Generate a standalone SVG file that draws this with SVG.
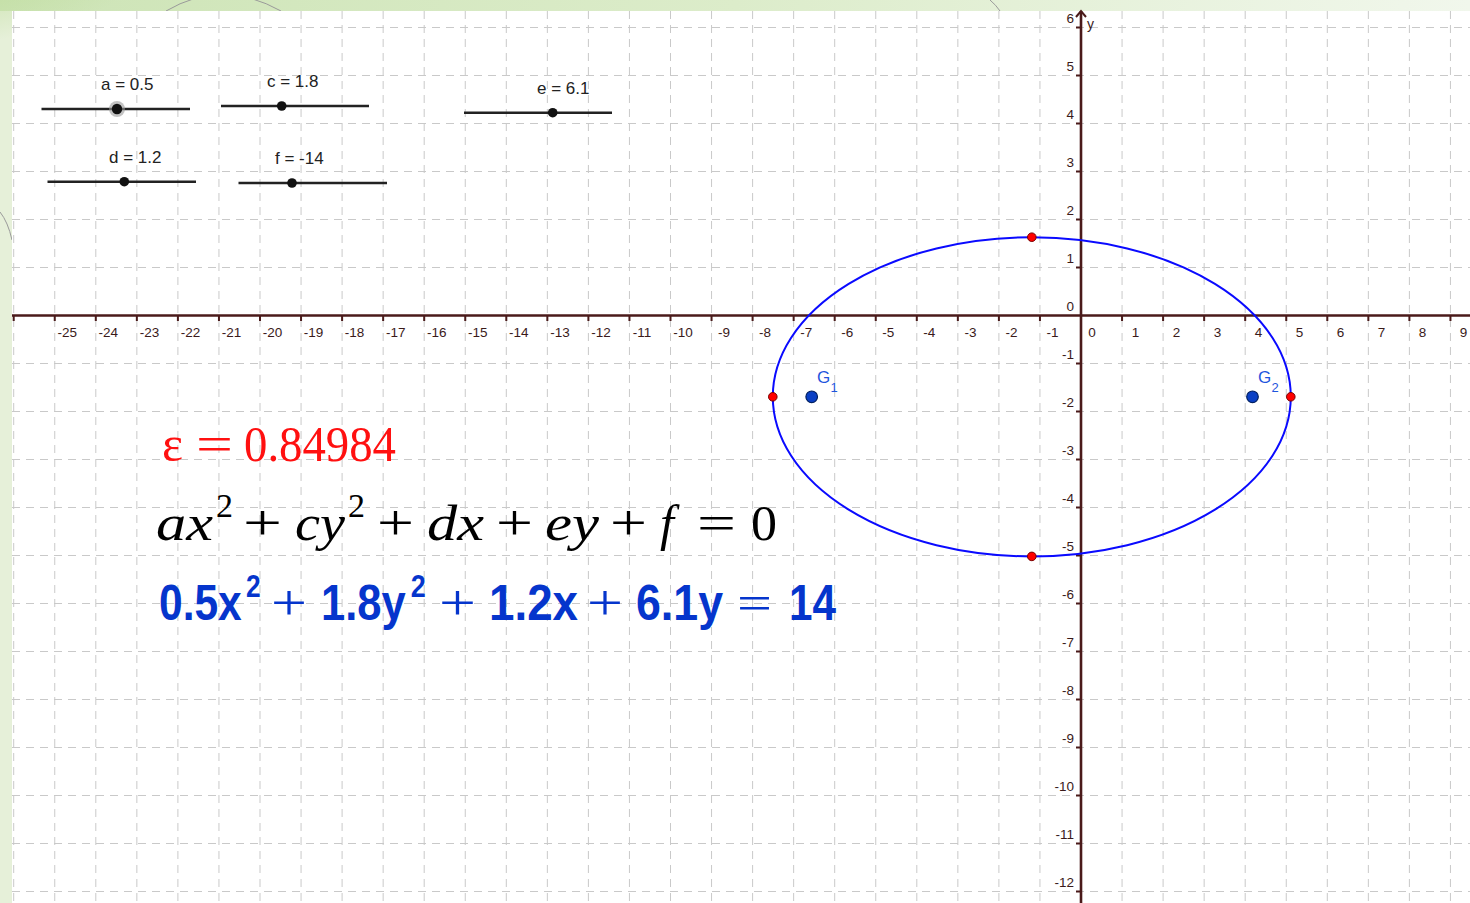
<svg xmlns="http://www.w3.org/2000/svg" width="1470" height="903" viewBox="0 0 1470 903">
<defs>
<linearGradient id="topband" x1="0" y1="0" x2="1" y2="0">
<stop offset="0" stop-color="#cde4b6"/>
<stop offset="0.5" stop-color="#dcecca"/>
<stop offset="1" stop-color="#f1f7ec"/>
</linearGradient>
<radialGradient id="blob" cx="0" cy="0" r="1">
<stop offset="0" stop-color="#bcdb98"/>
<stop offset="1" stop-color="#bcdb98" stop-opacity="0"/>
</radialGradient>
<style>
.grid{stroke:#c9c9c9;stroke-width:1;stroke-dasharray:8 6;fill:none}
.axis{stroke:#4a1a1a;stroke-width:2.6;fill:none}
.tick{stroke:#4a1a1a;stroke-width:2;fill:none}
.xl{font-family:"Liberation Sans",Arial,sans-serif;font-size:13.5px;fill:#3a1a1a;text-anchor:middle}
.yl{font-family:"Liberation Sans",Arial,sans-serif;font-size:13.5px;fill:#3a1a1a;text-anchor:end}
.sl{stroke:#222;stroke-width:2.6;fill:none}
.knob{fill:#111}
.slab{font-family:"Liberation Sans",Arial,sans-serif;font-size:17px;fill:#222}
.rp{fill:#f00;stroke:#700;stroke-width:1}
.fp{fill:#0a3fc4;stroke:#022060;stroke-width:1.2}
.gl{font-family:"Liberation Sans",Arial,sans-serif;fill:#1f55dd}
.ser{font-family:"Liberation Serif","Times New Roman",serif}
.it{font-style:italic}
.bsans{font-family:"Liberation Sans",Arial,sans-serif;font-weight:bold}
.deco{stroke:#9a9a9a;stroke-width:1;fill:none}
</style>
</defs>

<!-- background frame -->
<rect x="0" y="0" width="1470" height="903" fill="#e6f0d9"/>
<rect x="0" y="0" width="1470" height="11" fill="url(#topband)"/>
<ellipse cx="30" cy="5" rx="110" ry="40" fill="url(#blob)"/>
<path class="deco" d="M166,11 Q222,-22 281,11"/>
<path class="deco" d="M990,0 Q996,5 1000,11"/>
<path class="deco" d="M0,212 Q8,222 12,240"/>
<rect x="12" y="11" width="1458" height="892" fill="#ffffff"/>

<!-- grid -->
<g id="grid">
<line class="grid" x1="13.7" y1="11" x2="13.7" y2="903"/>
<line class="grid" x1="54.75" y1="11" x2="54.75" y2="903"/>
<line class="grid" x1="95.8" y1="11" x2="95.8" y2="903"/>
<line class="grid" x1="136.85" y1="11" x2="136.85" y2="903"/>
<line class="grid" x1="177.9" y1="11" x2="177.9" y2="903"/>
<line class="grid" x1="218.95" y1="11" x2="218.95" y2="903"/>
<line class="grid" x1="260" y1="11" x2="260" y2="903"/>
<line class="grid" x1="301.05" y1="11" x2="301.05" y2="903"/>
<line class="grid" x1="342.1" y1="11" x2="342.1" y2="903"/>
<line class="grid" x1="383.15" y1="11" x2="383.15" y2="903"/>
<line class="grid" x1="424.2" y1="11" x2="424.2" y2="903"/>
<line class="grid" x1="465.25" y1="11" x2="465.25" y2="903"/>
<line class="grid" x1="506.3" y1="11" x2="506.3" y2="903"/>
<line class="grid" x1="547.35" y1="11" x2="547.35" y2="903"/>
<line class="grid" x1="588.4" y1="11" x2="588.4" y2="903"/>
<line class="grid" x1="629.45" y1="11" x2="629.45" y2="903"/>
<line class="grid" x1="670.5" y1="11" x2="670.5" y2="903"/>
<line class="grid" x1="711.55" y1="11" x2="711.55" y2="903"/>
<line class="grid" x1="752.6" y1="11" x2="752.6" y2="903"/>
<line class="grid" x1="793.65" y1="11" x2="793.65" y2="903"/>
<line class="grid" x1="834.7" y1="11" x2="834.7" y2="903"/>
<line class="grid" x1="875.75" y1="11" x2="875.75" y2="903"/>
<line class="grid" x1="916.8" y1="11" x2="916.8" y2="903"/>
<line class="grid" x1="957.85" y1="11" x2="957.85" y2="903"/>
<line class="grid" x1="998.9" y1="11" x2="998.9" y2="903"/>
<line class="grid" x1="1039.95" y1="11" x2="1039.95" y2="903"/>
<line class="grid" x1="1122.05" y1="11" x2="1122.05" y2="903"/>
<line class="grid" x1="1163.1" y1="11" x2="1163.1" y2="903"/>
<line class="grid" x1="1204.15" y1="11" x2="1204.15" y2="903"/>
<line class="grid" x1="1245.2" y1="11" x2="1245.2" y2="903"/>
<line class="grid" x1="1286.25" y1="11" x2="1286.25" y2="903"/>
<line class="grid" x1="1327.3" y1="11" x2="1327.3" y2="903"/>
<line class="grid" x1="1368.35" y1="11" x2="1368.35" y2="903"/>
<line class="grid" x1="1409.4" y1="11" x2="1409.4" y2="903"/>
<line class="grid" x1="1450.45" y1="11" x2="1450.45" y2="903"/>
<line class="grid" x1="12" y1="27.5" x2="1470" y2="27.5"/>
<line class="grid" x1="12" y1="75.5" x2="1470" y2="75.5"/>
<line class="grid" x1="12" y1="123.5" x2="1470" y2="123.5"/>
<line class="grid" x1="12" y1="171.5" x2="1470" y2="171.5"/>
<line class="grid" x1="12" y1="219.5" x2="1470" y2="219.5"/>
<line class="grid" x1="12" y1="267.5" x2="1470" y2="267.5"/>
<line class="grid" x1="12" y1="363.5" x2="1470" y2="363.5"/>
<line class="grid" x1="12" y1="411.5" x2="1470" y2="411.5"/>
<line class="grid" x1="12" y1="459.5" x2="1470" y2="459.5"/>
<line class="grid" x1="12" y1="507.5" x2="1470" y2="507.5"/>
<line class="grid" x1="12" y1="555.5" x2="1470" y2="555.5"/>
<line class="grid" x1="12" y1="603.5" x2="1470" y2="603.5"/>
<line class="grid" x1="12" y1="651.5" x2="1470" y2="651.5"/>
<line class="grid" x1="12" y1="699.5" x2="1470" y2="699.5"/>
<line class="grid" x1="12" y1="747.5" x2="1470" y2="747.5"/>
<line class="grid" x1="12" y1="795.5" x2="1470" y2="795.5"/>
<line class="grid" x1="12" y1="843.5" x2="1470" y2="843.5"/>
<line class="grid" x1="12" y1="891.5" x2="1470" y2="891.5"/>
</g>

<!-- axes -->
<g id="axes">
<line class="axis" x1="12" y1="315.5" x2="1470" y2="315.5"/>
<line class="axis" x1="1081" y1="11" x2="1081" y2="903"/>
<path class="tick" d="M1076,17 L1081,11 L1086,17"/>
<path class="tick" d="M13.7,315.5v5.5M54.75,315.5v5.5M95.8,315.5v5.5M136.85,315.5v5.5M177.9,315.5v5.5M218.95,315.5v5.5M260,315.5v5.5M301.05,315.5v5.5M342.1,315.5v5.5M383.15,315.5v5.5M424.2,315.5v5.5M465.25,315.5v5.5M506.3,315.5v5.5M547.35,315.5v5.5M588.4,315.5v5.5M629.45,315.5v5.5M670.5,315.5v5.5M711.55,315.5v5.5M752.6,315.5v5.5M793.65,315.5v5.5M834.7,315.5v5.5M875.75,315.5v5.5M916.8,315.5v5.5M957.85,315.5v5.5M998.9,315.5v5.5M1039.95,315.5v5.5M1122.05,315.5v5.5M1163.1,315.5v5.5M1204.15,315.5v5.5M1245.2,315.5v5.5M1286.25,315.5v5.5M1327.3,315.5v5.5M1368.35,315.5v5.5M1409.4,315.5v5.5M1450.45,315.5v5.5"/>
<path class="tick" d="M1076,27.5h5M1076,75.5h5M1076,123.5h5M1076,171.5h5M1076,219.5h5M1076,267.5h5M1076,363.5h5M1076,411.5h5M1076,459.5h5M1076,507.5h5M1076,555.5h5M1076,603.5h5M1076,651.5h5M1076,699.5h5M1076,747.5h5M1076,795.5h5M1076,843.5h5M1076,891.5h5"/>
<text x="1087" y="29" font-family="Liberation Sans,Arial,sans-serif" font-size="14" fill="#3a1a1a">y</text>
<text class="xl" x="67.3" y="337">-25</text>
<text class="xl" x="108.3" y="337">-24</text>
<text class="xl" x="149.4" y="337">-23</text>
<text class="xl" x="190.4" y="337">-22</text>
<text class="xl" x="231.5" y="337">-21</text>
<text class="xl" x="272.5" y="337">-20</text>
<text class="xl" x="313.6" y="337">-19</text>
<text class="xl" x="354.6" y="337">-18</text>
<text class="xl" x="395.7" y="337">-17</text>
<text class="xl" x="436.7" y="337">-16</text>
<text class="xl" x="477.8" y="337">-15</text>
<text class="xl" x="518.8" y="337">-14</text>
<text class="xl" x="559.9" y="337">-13</text>
<text class="xl" x="600.9" y="337">-12</text>
<text class="xl" x="642" y="337">-11</text>
<text class="xl" x="683" y="337">-10</text>
<text class="xl" x="724.1" y="337">-9</text>
<text class="xl" x="765.1" y="337">-8</text>
<text class="xl" x="806.2" y="337">-7</text>
<text class="xl" x="847.2" y="337">-6</text>
<text class="xl" x="888.3" y="337">-5</text>
<text class="xl" x="929.3" y="337">-4</text>
<text class="xl" x="970.4" y="337">-3</text>
<text class="xl" x="1011.4" y="337">-2</text>
<text class="xl" x="1052.5" y="337">-1</text>
<text class="xl" x="1092" y="337">0</text>
<text class="xl" x="1135.5" y="337">1</text>
<text class="xl" x="1176.5" y="337">2</text>
<text class="xl" x="1217.5" y="337">3</text>
<text class="xl" x="1258.5" y="337">4</text>
<text class="xl" x="1299.5" y="337">5</text>
<text class="xl" x="1340.5" y="337">6</text>
<text class="xl" x="1381.5" y="337">7</text>
<text class="xl" x="1422.5" y="337">8</text>
<text class="xl" x="1463.5" y="337">9</text>
<text class="yl" x="1074" y="22.5">6</text>
<text class="yl" x="1074" y="70.5">5</text>
<text class="yl" x="1074" y="118.5">4</text>
<text class="yl" x="1074" y="166.5">3</text>
<text class="yl" x="1074" y="214.5">2</text>
<text class="yl" x="1074" y="262.5">1</text>
<text class="yl" x="1074" y="310.5">0</text>
<text class="yl" x="1074" y="358.5">-1</text>
<text class="yl" x="1074" y="406.5">-2</text>
<text class="yl" x="1074" y="454.5">-3</text>
<text class="yl" x="1074" y="502.5">-4</text>
<text class="yl" x="1074" y="550.5">-5</text>
<text class="yl" x="1074" y="598.5">-6</text>
<text class="yl" x="1074" y="646.5">-7</text>
<text class="yl" x="1074" y="694.5">-8</text>
<text class="yl" x="1074" y="742.5">-9</text>
<text class="yl" x="1074" y="790.5">-10</text>
<text class="yl" x="1074" y="838.5">-11</text>
<text class="yl" x="1074" y="886.5">-12</text>
</g>

<!-- ellipse -->
<g id="ellipse">
<ellipse cx="1031.8" cy="396.8" rx="259" ry="159.6" fill="none" stroke="#0a0aff" stroke-width="2"/>
</g>
<g id="vertices">
<circle class="rp" cx="772.8" cy="396.8" r="4.3"/>
<circle class="rp" cx="1290.8" cy="396.8" r="4.3"/>
<circle class="rp" cx="1031.8" cy="237.2" r="4.3"/>
<circle class="rp" cx="1031.8" cy="556.4" r="4.3"/>
</g>
<g id="G1">
<circle class="fp" cx="811.7" cy="396.8" r="5.8"/>
<text class="gl" x="817" y="383" font-size="17">G</text>
<text class="gl" x="830.5" y="391.5" font-size="13">1</text>
</g>
<g id="G2">
<circle class="fp" cx="1252.5" cy="396.8" r="5.8"/>
<text class="gl" x="1258" y="383" font-size="17">G</text>
<text class="gl" x="1271.5" y="391.5" font-size="13">2</text>
</g>

<!-- sliders -->
<g id="slider-a">
<line class="sl" x1="41.5" y1="109" x2="190" y2="109"/>
<circle cx="117" cy="109" r="8" fill="#999" opacity="0.6"/>
<circle class="knob" cx="117" cy="109" r="5.2"/>
<text class="slab" x="101" y="90">a = 0.5</text>
</g>
<g id="slider-c">
<line class="sl" x1="221" y1="106" x2="369" y2="106"/>
<circle class="knob" cx="281.7" cy="106" r="4.8"/>
<text class="slab" x="267" y="87">c = 1.8</text>
</g>
<g id="slider-e">
<line class="sl" x1="464" y1="112.7" x2="612" y2="112.7"/>
<circle class="knob" cx="552.7" cy="112.7" r="4.8"/>
<text class="slab" x="537" y="94">e = 6.1</text>
</g>
<g id="slider-d">
<line class="sl" x1="47.5" y1="181.7" x2="196" y2="181.7"/>
<circle class="knob" cx="124.3" cy="181.7" r="4.8"/>
<text class="slab" x="109" y="163">d = 1.2</text>
</g>
<g id="slider-f">
<line class="sl" x1="238.5" y1="183" x2="387" y2="183"/>
<circle class="knob" cx="292" cy="183" r="4.8"/>
<text class="slab" x="275" y="164">f = -14</text>
</g>

<!-- formulas -->
<g id="eccentricity" fill="#ff1010" font-size="50">
<text class="ser" x="162" y="461">ε</text>
<text class="ser" x="196" y="461" textLength="37" lengthAdjust="spacingAndGlyphs">=</text>
<text class="ser" x="244" y="461" textLength="152" lengthAdjust="spacingAndGlyphs">0.84984</text>
</g>
<g id="general-equation" fill="#000" font-size="50">
<text class="ser it" x="156" y="540" textLength="57" lengthAdjust="spacingAndGlyphs">ax</text>
<text class="ser" x="216" y="517" font-size="33" textLength="17" lengthAdjust="spacingAndGlyphs">2</text>
<text class="ser" x="243" y="540" textLength="39" lengthAdjust="spacingAndGlyphs">+</text>
<text class="ser it" x="295" y="540" textLength="50" lengthAdjust="spacingAndGlyphs">cy</text>
<text class="ser" x="348" y="517" font-size="33" textLength="17" lengthAdjust="spacingAndGlyphs">2</text>
<text class="ser" x="377" y="540" textLength="37" lengthAdjust="spacingAndGlyphs">+</text>
<text class="ser it" x="427" y="540" textLength="57" lengthAdjust="spacingAndGlyphs">dx</text>
<text class="ser" x="496" y="540" textLength="37" lengthAdjust="spacingAndGlyphs">+</text>
<text class="ser it" x="545" y="540" textLength="54" lengthAdjust="spacingAndGlyphs">ey</text>
<text class="ser" x="610" y="540" textLength="37" lengthAdjust="spacingAndGlyphs">+</text>
<text class="ser it" x="660" y="540">f</text>
<text class="ser" x="697" y="540" textLength="39" lengthAdjust="spacingAndGlyphs">=</text>
<text class="ser" x="751" y="540" textLength="26" lengthAdjust="spacingAndGlyphs">0</text>
</g>
<g id="numeric-equation" fill="#0535cc" font-size="50">
<text class="bsans" transform="translate(159,620) scale(0.85,1)">0.5x<tspan dx="5" dy="-23" font-size="31">2</tspan></text>
<text class="ser" x="271" y="620" textLength="36" lengthAdjust="spacingAndGlyphs">+</text>
<text class="bsans" transform="translate(321,620) scale(0.87,1)">1.8y<tspan dx="6" dy="-23" font-size="31">2</tspan></text>
<text class="ser" x="439" y="620" textLength="37" lengthAdjust="spacingAndGlyphs">+</text>
<text class="bsans" x="489" y="620" textLength="89" lengthAdjust="spacingAndGlyphs">1.2x</text>
<text class="ser" x="587" y="620" textLength="36" lengthAdjust="spacingAndGlyphs">+</text>
<text class="bsans" x="636" y="620" textLength="87" lengthAdjust="spacingAndGlyphs">6.1y</text>
<text class="ser" x="737" y="620" textLength="35" lengthAdjust="spacingAndGlyphs">=</text>
<text class="bsans" x="789" y="620" textLength="47" lengthAdjust="spacingAndGlyphs">14</text>
</g>
</svg>
